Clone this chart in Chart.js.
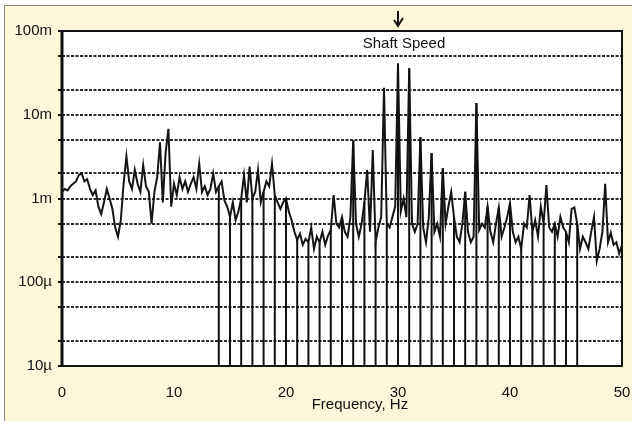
<!DOCTYPE html>
<html>
<head>
<meta charset="utf-8">
<script src="https://cdn.jsdelivr.net/npm/chart.js@4"></script>
<style>
  html, body { margin: 0; padding: 0; background: #fff; }
  #wrap { position: relative; width: 632px; height: 421px; overflow: hidden; }
  #paper {
    position: absolute; left: 4px; top: 5px; right: 0; bottom: 0;
    background: #fcf7d9; border-left: 1px solid #8a8a8a; border-top: 1px solid #8a8a8a;
  }
  #chart { position: absolute; left: 0; top: 0; }
</style>
</head>
<body>
<div id="wrap">
  <div id="paper"></div>
  <canvas id="chart" width="632" height="421"></canvas>
</div>
<script>
// spectrum amplitude, in "m" units (1 = 1m), one value every 0.25 Hz from 0 to 50 Hz
const freqStep = 0.25;
const amplitude = [
  1.2, 1.3, 1.25, 1.4,     // 0 Hz
  1.5, 1.6, 1.9, 2.0,      // 1
  1.6, 1.7, 1.3, 1.1,      // 2
  1.25, 0.8, 0.65, 0.9,    // 3
  1.3, 1.0, 0.75, 0.45,    // 4
  0.35, 0.55, 1.5, 3.2,    // 5
  1.6, 1.3, 2.2, 1.5,      // 6
  1.2, 2.5, 1.4, 1.2,      // 7
  0.5, 1.2, 1.8, 4.7,      // 8
  0.9, 3.5, 6.8, 0.8,      // 9
  1.5, 1.1, 1.8, 1.3,      // 10
  1.6, 1.2, 1.5, 1.8,      // 11
  1.3, 2.6, 1.2, 1.4,      // 12
  1.1, 1.3, 2.0, 1.2,      // 13
  1.4, 1.6, 0.95, 0.8,     // 14
  0.6, 0.9, 0.55, 0.7,     // 15
  1.0, 1.9, 0.9, 2.4,      // 16
  1.0, 1.2, 2.2, 0.9,      // 17
  1.2, 1.6, 1.4, 2.6,      // 18
  1.1, 0.9, 0.75, 0.9,     // 19
  1.0, 0.7, 0.55, 0.4,     // 20
  0.32, 0.38, 0.28, 0.33,  // 21
  0.3, 0.45, 0.25, 0.35,   // 22
  0.3, 0.4, 0.28, 0.36,    // 23
  0.42, 1.1, 0.5, 0.45,    // 24
  0.6, 0.4, 0.35, 0.6,     // 25
  5.0, 0.5, 0.35, 0.5,     // 26
  0.9, 2.2, 0.4, 3.8,      // 27
  0.3, 0.45, 0.6, 21,      // 28
  0.5, 0.45, 0.6, 0.8,     // 29
  41, 0.7, 1.0, 0.6,       // 30
  36, 0.5, 0.4, 0.5,       // 31
  5.4, 0.45, 0.3, 0.6,     // 32
  3.5, 0.4, 0.5, 0.35,     // 33
  2.3, 0.5, 0.8, 1.2,      // 34
  0.6, 0.35, 0.3, 0.5,     // 35
  1.2, 0.4, 0.3, 0.35,     // 36
  13.8, 0.42, 0.5, 0.45,   // 37
  0.8, 0.4, 0.3, 0.5,      // 38
  0.78, 0.35, 0.45, 0.6,   // 39
  0.88, 0.4, 0.3, 0.35,    // 40
  0.25, 0.5, 0.45, 1.1,    // 41
  0.4, 0.55, 0.35, 0.8,    // 42
  0.5, 1.45, 0.45, 0.4,    // 43
  0.5, 0.35, 0.6, 0.45,    // 44
  0.4, 0.3, 0.75, 0.78,    // 45
  0.5, 0.25, 0.35, 0.3,    // 46
  0.25, 0.4, 0.6, 0.18,    // 47
  0.25, 0.4, 1.5, 0.3,     // 48
  0.39, 0.28, 0.3, 0.22,   // 49
  0.28                     // 50
];

// bins where the trace drops to the floor
const dropoutHz = [14, 15, 16, 17, 18, 19, 20, 21, 22, 23, 24, 25, 26, 27, 28, 29, 30,
                   31, 32, 33, 34, 35, 36, 37, 38, 39, 40, 41, 42, 43, 44, 45, 46];
const floorLevel = 0.01;

const yGrid = [0.01, 0.02, 0.05, 0.1, 0.2, 0.5, 1, 2, 5, 10, 20, 50, 100];
const yDecades = [0.01, 0.1, 1, 10, 100];
const yDecadeLabels = ["10µ", "100µ", "1m", "10m", "100m"];
const xTicks = [0, 10, 20, 30, 40, 50];
const shaftSpeedHz = 30;

const tracePts = amplitude.map((v, i) => ({ x: i * freqStep, y: v }));
const dropPts = [];
dropoutHz.forEach((f) => {
  const v = amplitude[Math.round(f / freqStep)];
  dropPts.push({ x: f, y: v }, { x: f, y: floorLevel }, { x: f, y: null });
});

const FONT = "'Liberation Sans', Arial, Helvetica, sans-serif";

const paperPlugin = {
  id: "paper",
  beforeDraw(chart) {
    const { ctx, chartArea: a } = chart;
    ctx.save();
    ctx.fillStyle = "#ffffff";
    ctx.fillRect(a.left, a.top, a.right - a.left, a.bottom - a.top);
    ctx.restore();
  },
  afterDraw(chart) {
    const { ctx, chartArea: a, scales } = chart;
    ctx.save();
    ctx.strokeStyle = "#111";
    ctx.lineWidth = 2;
    ctx.beginPath();
    ctx.moveTo(a.left, a.top);
    ctx.lineTo(a.right, a.top);
    ctx.lineTo(a.right, a.bottom);
    ctx.lineTo(a.left, a.bottom);
    ctx.stroke();
    ctx.lineWidth = 3;
    ctx.beginPath();
    ctx.moveTo(a.left, a.top - 1);
    ctx.lineTo(a.left, a.bottom + 1);
    ctx.stroke();

    // shaft speed marker
    const sx = scales.x.getPixelForValue(shaftSpeedHz);
    ctx.lineWidth = 2;
    ctx.beginPath();
    ctx.moveTo(sx, a.top - 20);
    ctx.lineTo(sx, a.top - 5);
    ctx.moveTo(sx - 4, a.top - 11);
    ctx.lineTo(sx, a.top - 5);
    ctx.lineTo(sx + 5, a.top - 13);
    ctx.stroke();

    ctx.fillStyle = "#111";
    ctx.font = "15px " + FONT;
    ctx.textAlign = "center";
    ctx.textBaseline = "middle";
    ctx.fillText("Shaft Speed", sx + 6, a.top + 13);
    ctx.fillText("Frequency, Hz", scales.x.getPixelForValue(26.6), 405);
    ctx.restore();
  },
};

new Chart(document.getElementById("chart"), {
  type: "line",
  data: {
    datasets: [
      {
        data: dropPts,
        borderColor: "#111",
        borderWidth: 2,
        pointRadius: 0,
        spanGaps: false,
      },
      {
        data: tracePts,
        borderColor: "#151515",
        borderWidth: 2,
        pointRadius: 0,
        tension: 0,
      },
    ],
  },
  options: {
    responsive: false,
    animation: false,
    layout: { padding: { top: 31, right: 10, left: 0, bottom: 0 } },
    plugins: {
      legend: { display: false },
      tooltip: { enabled: false },
    },
    scales: {
      x: {
        type: "linear",
        min: 0,
        max: 50,
        afterBuildTicks: (s) => { s.ticks = xTicks.map((v) => ({ value: v })); },
        afterFit: (s) => {
          s.height = 55;
          s.paddingLeft = 0;
          s.paddingRight = 0;
        },
        grid: { display: false },
        border: { display: false },
        ticks: {
          padding: 10,
          color: "#111",
          font: { family: FONT, size: 15 },
          maxRotation: 0,
        },
      },
      y: {
        type: "logarithmic",
        min: 0.01,
        max: 100,
        afterBuildTicks: (s) => { s.ticks = yGrid.map((v) => ({ value: v })); },
        afterFit: (s) => { s.width = 62; },
        grid: {
          color: "#2a2a2a",
          lineWidth: 2,
          tickLength: 4,
          tickColor: "#111",
        },
        border: { display: false, dash: [3, 1.5] },
        ticks: {
          padding: 6,
          color: "#111",
          font: { family: FONT, size: 15 },
          autoSkip: false,
          callback: (v) => {
            const i = yDecades.indexOf(v);
            return i >= 0 ? yDecadeLabels[i] : "";
          },
        },
      },
    },
  },
  plugins: [paperPlugin],
});
</script>
</body>
</html>
